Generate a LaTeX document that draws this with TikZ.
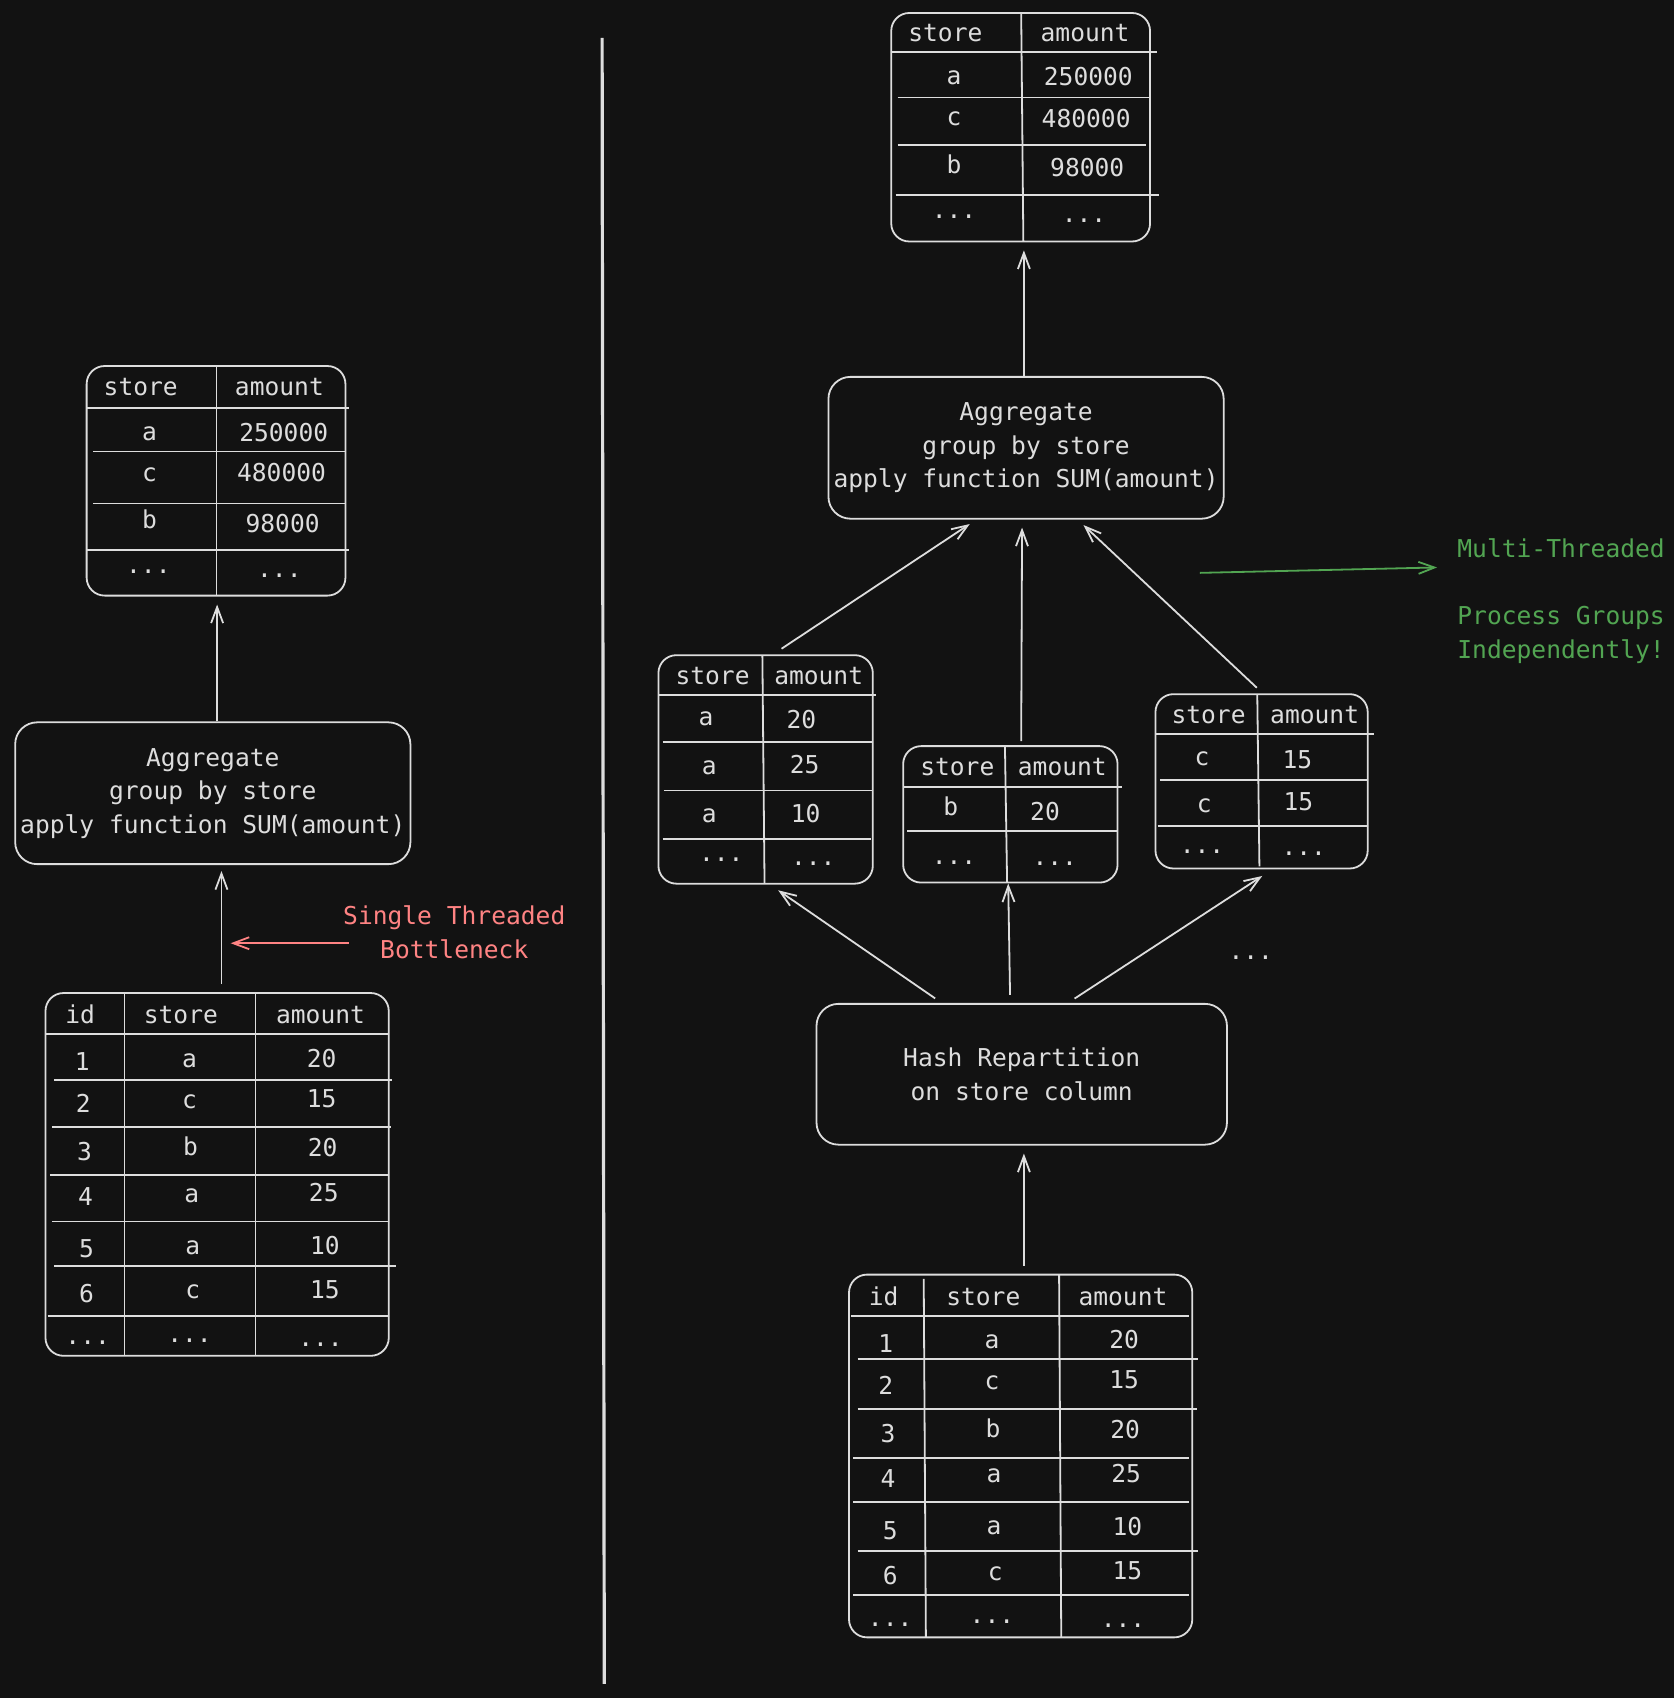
\documentclass[tikz,border=0pt]{standalone}
\usepackage{fontspec}
\setmonofont{DejaVu Sans Mono}
\usetikzlibrary{arrows.meta,fit,calc}

\definecolor{canvas}{HTML}{121212}
\definecolor{ink}{HTML}{DDDDDD}
\definecolor{alarm}{HTML}{FF8383}
\definecolor{okay}{HTML}{52A552}

\newcommand\dgfont{\ttfamily\fontsize{12.3}{16.8}\selectfont}

\tikzset{
	tbl/.style={draw=ink, rounded corners=9pt, inner sep=0pt},
	opbox/.style={draw=ink, rounded corners=11pt, inner sep=0pt, align=center,
		text=ink, font=\dgfont},
	grid/.style={draw=ink},
	cell/.style={text=ink, font=\dgfont, inner sep=0pt, text height=9pt, text depth=0pt},
	note/.style={font=\dgfont, inner sep=0pt},
	arr/.style={draw=ink, -{Straight Barb[length=8pt, width=6pt]}},
}

\begin{document}
\begin{tikzpicture}[x=0.5414pt, y=-0.5414pt, line width=0.9pt, color=ink]
	\fill[canvas] (0,0) rectangle (1546,1568);
	\useasboundingbox (0,0) rectangle (1546,1568);

	% divider between the two plans
	\draw[line width=1.6pt] (556,35) -- (558,1555);

	% left: result table
	\node[tbl, fit={(80,338) (319,550)}] (resL) {};
		\draw[grid] (200,338) -- (200,550);
		\draw[grid] (80,377) -- (322,377);
		\draw[grid] (86,417) -- (319,417);
		\draw[grid] (86,465) -- (319,465);
		\draw[grid] (80,508) -- (322,508);
	\node[cell] (rLh1) at (130,357) {store};
	\node[cell] (rLh2) at (258,357) {amount};
	\node[cell] (rL11) at (138,398) {a};
	\node[cell] (rL12) at (262,399) {250000};
	\node[cell] (rL21) at (138,436) {c};
	\node[cell] (rL22) at (260,436) {480000};
	\node[cell] (rL31) at (138,480) {b};
	\node[cell] (rL32) at (261,483) {98000};
	\node[cell] (rL41) at (137,521) {...};
	\node[cell] (rL42) at (258,525) {...};

	% left: aggregate
	\node[opbox, minimum width=197.6pt, minimum height=70.9pt] (aggL) at (196.5,732.5)
		{Aggregate\\group by store\\apply function SUM(amount)};

	% left: source table
	\node[tbl, fit={(42,917) (359,1252)}] (srcL) {};
		\draw[grid] (115,917) -- (115,1252);
		\draw[grid] (236,917) -- (236,1252);
		\draw[grid] (42,955) -- (359,955);
		\draw[grid] (50,997) -- (362,997);
		\draw[grid] (48,1041) -- (361,1041);
		\draw[grid] (46,1085) -- (359,1085);
		\draw[grid] (48,1128) -- (359,1128);
		\draw[grid] (50,1169) -- (366,1169);
		\draw[grid] (44,1215) -- (359,1215);
	\node[cell] (sLh1) at (74,937) {id};
	\node[cell] (sLh2) at (167,937) {store};
	\node[cell] (sLh3) at (296,937) {amount};
	\node[cell] (sL11) at (76,980) {1};
	\node[cell] (sL12) at (175,977) {a};
	\node[cell] (sL13) at (297,977) {20};
	\node[cell] (sL21) at (77,1019) {2};
	\node[cell] (sL22) at (175,1015) {c};
	\node[cell] (sL23) at (297,1014) {15};
	\node[cell] (sL31) at (78,1063) {3};
	\node[cell] (sL32) at (176,1059) {b};
	\node[cell] (sL33) at (298,1060) {20};
	\node[cell] (sL41) at (79,1105) {4};
	\node[cell] (sL42) at (177,1102) {a};
	\node[cell] (sL43) at (299,1101) {25};
	\node[cell] (sL51) at (80,1153) {5};
	\node[cell] (sL52) at (178,1150) {a};
	\node[cell] (sL53) at (300,1150) {10};
	\node[cell] (sL61) at (80,1194) {6};
	\node[cell] (sL62) at (178,1191) {c};
	\node[cell] (sL63) at (300,1191) {15};
	\node[cell] (sL71) at (81,1233) {...};
	\node[cell] (sL72) at (175,1231) {...};
	\node[cell] (sL73) at (296,1235) {...};

	% left: bottleneck note
	\node[note, text=alarm, align=center] (slowLbl) at (419.5,861) {Single Threaded\\Bottleneck};
	\coordinate (slowHead) at (213,871);

	\draw[arr, shorten >=4pt] ($(aggL.north)+(4,0)$) -- ($(aggL.north |- resL.south)+(4,0)$);
	\draw[arr, shorten <=4pt, shorten >=3pt] ($(srcL.north)+(4,0)$) -- ($(srcL.north |- aggL.south)+(4,0)$);
	\draw[arr, draw=alarm] ($(slowLbl.west)+(6,10)$) -- (slowHead);

	% right: result table
	\node[tbl, fit={(823,12) (1062,223)}] (resR) {};
		\draw[grid] (943,12) -- (945,223);
		\draw[grid] (823,48) -- (1068,48);
		\draw[grid] (829,90) -- (1062,90);
		\draw[grid] (829,134) -- (1058,134);
		\draw[grid] (827,180) -- (1070,180);
	\node[cell] (rRh1) at (873,30) {store};
	\node[cell] (rRh2) at (1002,30) {amount};
	\node[cell] (rR11) at (881,70) {a};
	\node[cell] (rR12) at (1005,71) {250000};
	\node[cell] (rR21) at (881,108) {c};
	\node[cell] (rR22) at (1003,109) {480000};
	\node[cell] (rR31) at (881,152) {b};
	\node[cell] (rR32) at (1004,155) {98000};
	\node[cell] (rR41) at (881,193) {...};
	\node[cell] (rR42) at (1001,197) {...};

	% right: aggregate
	\node[opbox, minimum width=197.6pt, minimum height=70.9pt] (aggR) at (947.5,413.5)
		{Aggregate\\group by store\\apply function SUM(amount)};

	% right: partitions
	\node[tbl, fit={(608,605) (806,816)}] (partA) {};
		\draw[grid] (704,605) -- (706,816);
		\draw[grid] (608,642) -- (809,642);
		\draw[grid] (612,685) -- (806,685);
		\draw[grid] (613,730) -- (806,730);
		\draw[grid] (612,775) -- (804,775);
	\node[cell] (pAh1) at (658,624) {store};
	\node[cell] (pAh2) at (756,624) {amount};
	\node[cell] (pA11) at (652,662) {a};
	\node[cell] (pA12) at (740,664) {20};
	\node[cell] (pA21) at (655,707) {a};
	\node[cell] (pA22) at (743,706) {25};
	\node[cell] (pA31) at (655,751) {a};
	\node[cell] (pA32) at (744,751) {10};
	\node[cell] (pA41) at (666,787) {...};
	\node[cell] (pA42) at (751,791) {...};

	\node[tbl, fit={(834,689) (1032,815)}] (partB) {};
		\draw[grid] (928,689) -- (930,815);
		\draw[grid] (834,727) -- (1036,727);
		\draw[grid] (838,767) -- (1032,767);
	\node[cell] (pBh1) at (884,708) {store};
	\node[cell] (pBh2) at (981,708) {amount};
	\node[cell] (pB11) at (878,745) {b};
	\node[cell] (pB12) at (965,749) {20};
	\node[cell] (pB21) at (881,790) {...};
	\node[cell] (pB22) at (974,791) {...};

	\node[tbl, fit={(1067,641) (1263,802)}] (partC) {};
		\draw[grid] (1161,641) -- (1163,800);
		\draw[grid] (1067,678) -- (1269,678);
		\draw[grid] (1071,720) -- (1263,720);
		\draw[grid] (1069,763) -- (1263,763);
	\node[cell] (pCh1) at (1116,660) {store};
	\node[cell] (pCh2) at (1214,660) {amount};
	\node[cell] (pC11) at (1110,699) {c};
	\node[cell] (pC12) at (1198,701) {15};
	\node[cell] (pC21) at (1112,742) {c};
	\node[cell] (pC22) at (1199,740) {15};
	\node[cell] (pC31) at (1110,780) {...};
	\node[cell] (pC32) at (1204,782) {...};

	\node[cell] (moreParts) at (1155,878) {...};

	% right: hash repartition
	\node[opbox, minimum width=205.2pt, minimum height=70.4pt] (hashR) at (943.5,992)
		{Hash Repartition\\on store column};

	% right: source table
	\node[tbl, fit={(784,1177) (1101,1512)}] (srcR) {};
		\draw[grid] (853,1181) -- (855,1512);
		\draw[grid] (978,1177) -- (980,1512);
		\draw[grid] (786,1215) -- (1098,1215);
		\draw[grid] (792,1255) -- (1106,1255);
		\draw[grid] (792,1301) -- (1105,1301);
		\draw[grid] (788,1346) -- (1098,1346);
		\draw[grid] (788,1387) -- (1098,1387);
		\draw[grid] (792,1432) -- (1106,1432);
		\draw[grid] (788,1473) -- (1098,1473);
	\node[cell] (sRh1) at (816,1197) {id};
	\node[cell] (sRh2) at (908,1197) {store};
	\node[cell] (sRh3) at (1037,1197) {amount};
	\node[cell] (sR11) at (818,1241) {1};
	\node[cell] (sR12) at (916,1237) {a};
	\node[cell] (sR13) at (1038,1237) {20};
	\node[cell] (sR21) at (818,1279) {2};
	\node[cell] (sR22) at (916,1275) {c};
	\node[cell] (sR23) at (1038,1274) {15};
	\node[cell] (sR31) at (820,1324) {3};
	\node[cell] (sR32) at (917,1319) {b};
	\node[cell] (sR33) at (1039,1320) {20};
	\node[cell] (sR41) at (820,1365) {4};
	\node[cell] (sR42) at (918,1361) {a};
	\node[cell] (sR43) at (1040,1361) {25};
	\node[cell] (sR51) at (822,1413) {5};
	\node[cell] (sR52) at (918,1409) {a};
	\node[cell] (sR53) at (1041,1410) {10};
	\node[cell] (sR61) at (822,1455) {6};
	\node[cell] (sR62) at (919,1451) {c};
	\node[cell] (sR63) at (1041,1450) {15};
	\node[cell] (sR71) at (822,1494) {...};
	\node[cell] (sR72) at (916,1491) {...};
	\node[cell] (sR73) at (1037,1495) {...};

	% right: multi threaded note
	\node[note, text=okay, align=left, anchor=west] (fastLbl) at (1345,555)
		{Multi-Threaded\\[16.8pt]Process Groups\\Independently!};
	\coordinate (fastTail) at (1108,529);

	\draw[arr, shorten >=4pt] ($(aggR.north)+(-2,0)$) -- ($(aggR.north |- resR.south)+(-2,0)$);
	\draw[arr, shorten <=5pt, shorten >=4pt] ($(partA.north west)!0.535!(partA.north east)$) -- ($(aggR.south west)!0.375!(aggR.south east)$);
	\draw[arr, shorten <=2pt, shorten >=4pt] ($(partB.north west)!0.55!(partB.north east)$) -- ($(aggR.south west)!0.49!(aggR.south east)$);
	\draw[arr, shorten <=4pt, shorten >=4pt] ($(partC.north west)!0.505!(partC.north east)$) -- ($(aggR.south west)!0.63!(aggR.south east)$);
	\draw[arr, shorten <=4pt, shorten >=5pt] ($(hashR.north west)!0.306!(hashR.north east)$) -- ($(partA.south west)!0.52!(partA.south east)$);
	\draw[arr, shorten <=4pt] ($(hashR.north west)!0.472!(hashR.north east)$) -- ($(partB.south west)!0.49!(partB.south east)$);
	\draw[arr, shorten <=4pt, shorten >=6pt] ($(hashR.north west)!0.612!(hashR.north east)$) -- ($(partC.south west)!0.55!(partC.south east)$);
	\draw[arr, shorten <=4pt, shorten >=4pt] ($(srcR.north)+(3,0)$) -- ($(srcR.north |- hashR.south)+(3,0)$);
	\draw[arr, draw=okay] (fastTail) -- ($(fastLbl.west)+(-18,-31)$);
\end{tikzpicture}
\end{document}
